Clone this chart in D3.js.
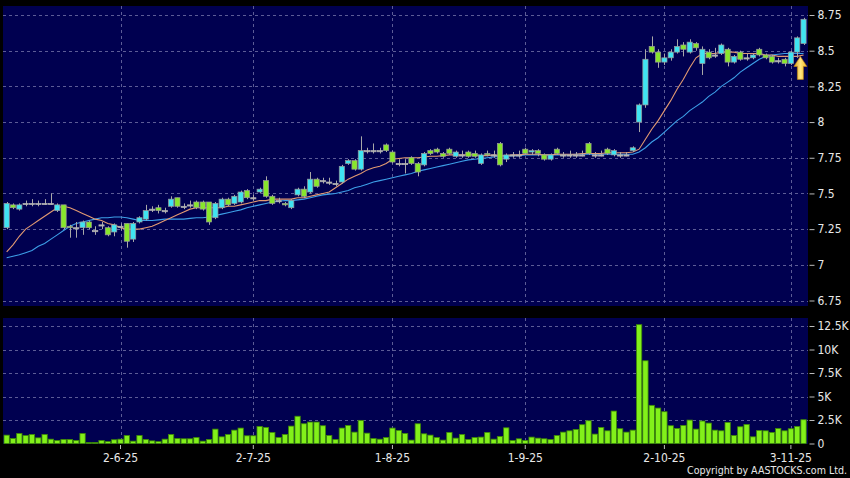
<!DOCTYPE html>
<html>
<head>
<meta charset="utf-8">
<script src="https://cdn.jsdelivr.net/npm/d3@7"></script>
<style>
  body { margin: 0; background: #000; }
  svg text { font-family: "DejaVu Sans Condensed", "DejaVu Sans", sans-serif; }
</style>
</head>
<body>
<svg id="chart" width="850" height="478"></svg>
<script>
// trading days, d-m-yy
const dates = [
  "7-5-25","8-5-25","9-5-25","12-5-25","13-5-25","14-5-25","15-5-25","16-5-25","19-5-25","20-5-25",
  "21-5-25","22-5-25","23-5-25","26-5-25","27-5-25","28-5-25","29-5-25","30-5-25",
  "2-6-25","3-6-25","4-6-25","5-6-25","6-6-25","9-6-25","10-6-25","11-6-25","12-6-25","13-6-25",
  "16-6-25","17-6-25","18-6-25","19-6-25","20-6-25","23-6-25","24-6-25","25-6-25","26-6-25","27-6-25","30-6-25",
  "2-7-25","3-7-25","4-7-25","7-7-25","8-7-25","9-7-25","10-7-25","11-7-25","14-7-25","15-7-25",
  "16-7-25","17-7-25","18-7-25","21-7-25","22-7-25","23-7-25","24-7-25","25-7-25","28-7-25","29-7-25","30-7-25","31-7-25",
  "1-8-25","4-8-25","5-8-25","6-8-25","7-8-25","8-8-25","11-8-25","12-8-25","13-8-25","14-8-25",
  "15-8-25","18-8-25","19-8-25","20-8-25","21-8-25","22-8-25","25-8-25","26-8-25","27-8-25","28-8-25","29-8-25",
  "1-9-25","2-9-25","3-9-25","4-9-25","5-9-25","8-9-25","9-9-25","10-9-25","11-9-25","12-9-25",
  "15-9-25","16-9-25","17-9-25","18-9-25","19-9-25","22-9-25","23-9-25","24-9-25","25-9-25","26-9-25","29-9-25","30-9-25",
  "2-10-25","3-10-25","6-10-25","8-10-25","9-10-25","10-10-25","13-10-25","14-10-25","15-10-25","16-10-25",
  "17-10-25","20-10-25","21-10-25","22-10-25","23-10-25","24-10-25","27-10-25","28-10-25","30-10-25","31-10-25",
  "3-11-25","4-11-25","5-11-25"
];

const open = [
  7.26,7.42,7.39,7.43,7.43,7.43,7.43,7.43,7.38,7.42, 7.27,7.26,7.26,7.30,7.24,7.28,7.26,7.23,7.27,7.29,
  7.18,7.30,7.32,7.39,7.40,7.38,7.41,7.47,7.41,7.42, 7.44,7.44,7.44,7.33,7.40,7.46,7.43,7.44,7.52,7.47,
  7.51,7.59,7.48,7.45,7.43,7.40,7.49,7.53,7.51,7.60, 7.59,7.58,7.57,7.58,7.71,7.73,7.67,7.80,7.80,7.80,
  7.84,7.79,7.71,7.71,7.75,7.71,7.70,7.80,7.81,7.78, 7.81,7.76,7.77,7.79,7.78,7.71,7.78,7.77,7.85,7.74,
  7.77,7.77,7.81,7.79,7.80,7.77,7.74,7.81,7.77,7.77, 7.77,7.77,7.85,7.77,7.77,7.81,7.77,7.77,7.77,7.80,
  8.00,8.12,8.53,8.49,8.42,8.45,8.49,8.54,8.49,8.55, 8.41,8.49,8.47,8.48,8.51,8.42,8.49,8.45,8.45,8.51,
  8.47,8.46,8.43,8.44,8.41,8.49,8.55
];
const high = [
  7.44,7.43,7.43,7.45,7.46,7.45,7.46,7.50,7.43,7.42, 7.28,7.30,7.31,7.31,7.27,7.30,7.27,7.29,7.29,7.29,
  7.30,7.34,7.42,7.41,7.42,7.40,7.48,7.47,7.43,7.45, 7.45,7.45,7.44,7.44,7.47,7.47,7.49,7.52,7.53,7.49,
  7.54,7.62,7.49,7.47,7.44,7.46,7.54,7.55,7.65,7.61, 7.61,7.61,7.59,7.70,7.74,7.74,7.90,7.82,7.85,7.82,
  7.85,7.80,7.74,7.74,7.76,7.72,7.79,7.81,7.82,7.79, 7.82,7.80,7.80,7.80,7.80,7.78,7.80,7.80,7.86,7.78,
  7.79,7.80,7.82,7.81,7.81,7.78,7.78,7.82,7.79,7.80, 7.79,7.80,7.86,7.79,7.80,7.82,7.81,7.79,7.79,7.83,
  8.13,8.51,8.60,8.51,8.48,8.51,8.58,8.56,8.58,8.56, 8.53,8.51,8.52,8.55,8.52,8.47,8.50,8.48,8.48,8.52,
  8.48,8.47,8.45,8.45,8.50,8.60,8.73
];
const low = [
  7.25,7.39,7.38,7.41,7.41,7.41,7.42,7.42,7.37,7.25, 7.19,7.19,7.21,7.25,7.21,7.25,7.20,7.20,7.24,7.12,
  7.16,7.29,7.31,7.37,7.36,7.36,7.40,7.40,7.39,7.40, 7.39,7.38,7.28,7.32,7.39,7.41,7.42,7.43,7.46,7.45,
  7.50,7.47,7.42,7.43,7.41,7.39,7.48,7.47,7.50,7.54, 7.57,7.56,7.55,7.57,7.70,7.66,7.66,7.78,7.78,7.78,
  7.79,7.71,7.69,7.64,7.70,7.62,7.69,7.77,7.78,7.75, 7.77,7.75,7.75,7.75,7.75,7.70,7.76,7.75,7.69,7.72,
  7.75,7.75,7.77,7.77,7.76,7.73,7.73,7.77,7.75,7.75, 7.75,7.76,7.77,7.75,7.76,7.77,7.76,7.75,7.76,7.79,
  7.93,8.10,8.48,8.38,8.40,8.43,8.48,8.46,8.48,8.50, 8.33,8.44,8.45,8.47,8.39,8.41,8.43,8.43,8.44,8.46,
  8.44,8.41,8.41,8.39,8.40,8.45,8.54
];
const close = [
  7.43,7.40,7.42,7.43,7.43,7.43,7.43,7.43,7.42,7.26, 7.26,7.26,7.30,7.26,7.24,7.28,7.21,7.28,7.27,7.165,
  7.29,7.33,7.38,7.39,7.38,7.38,7.46,7.41,7.41,7.42, 7.40,7.39,7.30,7.43,7.46,7.42,7.48,7.51,7.47,7.47,
  7.53,7.48,7.43,7.45,7.42,7.45,7.53,7.48,7.60,7.55, 7.59,7.58,7.57,7.69,7.73,7.67,7.80,7.80,7.80,7.80,
  7.80,7.72,7.71,7.71,7.71,7.65,7.78,7.78,7.79,7.76, 7.78,7.79,7.77,7.76,7.76,7.77,7.77,7.77,7.70,7.77,
  7.77,7.77,7.78,7.80,7.78,7.74,7.77,7.78,7.77,7.77, 7.77,7.77,7.78,7.77,7.77,7.78,7.80,7.77,7.77,7.82,
  8.12,8.44,8.49,8.42,8.45,8.49,8.53,8.51,8.56,8.52, 8.51,8.45,8.47,8.54,8.42,8.46,8.44,8.45,8.47,8.47,
  8.45,8.42,8.43,8.41,8.49,8.59,8.72
];

// moving averages as drawn (orange 10 day, blue 20 day)
const ma10 = [
  7.09,7.14,7.20,7.25,7.28,7.31,7.34,7.37,7.40,7.41, 7.40,7.38,7.36,7.34,7.32,7.31,7.29,7.28,7.26,7.25,
  7.25,7.25,7.26,7.27,7.29,7.31,7.33,7.35,7.37,7.39, 7.40,7.40,7.40,7.40,7.40,7.41,7.41,7.42,7.43,7.44,
  7.45,7.45,7.46,7.46,7.46,7.46,7.47,7.47,7.48,7.49, 7.50,7.51,7.54,7.57,7.60,7.62,7.64,7.665,7.68,7.69,
  7.71,7.74,7.745,7.75,7.75,7.75,7.755,7.76,7.76,7.765, 7.77,7.77,7.77,7.77,7.77,7.765,7.765,7.77,7.765,7.765,
  7.77,7.77,7.775,7.775,7.775,7.77,7.77,7.775,7.775,7.775, 7.775,7.78,7.78,7.78,7.78,7.785,7.785,7.785,7.785,7.79,
  7.81,7.88,7.95,8.01,8.08,8.15,8.23,8.30,8.38,8.45, 8.48,8.48,8.48,8.49,8.49,8.49,8.48,8.48,8.48,8.48,
  8.47,8.47,8.46,8.46,8.46,8.46,8.47
];
const ma20 = [
  7.05,7.06,7.07,7.085,7.10,7.13,7.15,7.18,7.21,7.24, 7.27,7.29,7.30,7.31,7.32,7.33,7.33,7.335,7.335,7.33,
  7.32,7.31,7.31,7.31,7.315,7.32,7.32,7.32,7.32,7.325, 7.33,7.33,7.335,7.345,7.355,7.365,7.375,7.385,7.40,7.41,
  7.42,7.43,7.44,7.445,7.45,7.45,7.455,7.46,7.47,7.48, 7.49,7.495,7.50,7.51,7.52,7.54,7.55,7.565,7.58,7.59,
  7.60,7.61,7.62,7.63,7.64,7.655,7.665,7.675,7.685,7.695, 7.705,7.715,7.725,7.735,7.74,7.745,7.75,7.755,7.76,7.76,
  7.765,7.765,7.77,7.77,7.77,7.77,7.77,7.77,7.77,7.77, 7.775,7.775,7.775,7.775,7.775,7.775,7.775,7.775,7.775,7.775,
  7.79,7.82,7.86,7.89,7.93,7.97,8.01,8.04,8.08,8.11, 8.14,8.18,8.21,8.25,8.28,8.31,8.35,8.38,8.41,8.44,
  8.46,8.47,8.475,8.48,8.48,8.48,8.48
];

// volume in thousands
const volume = [
  0.89,0.53,1.07,0.85,0.96,0.60,0.96,0.46,0.32,0.43, 0.43,0.32,1.07,0.10,0.10,0.32,0.20,0.40,0.46,0.85,
  0.25,0.85,0.43,0.28,0.20,0.46,0.96,0.53,0.50,0.50, 0.64,0.25,0.43,1.53,0.71,0.96,1.42,1.64,0.82,0.82,
  1.82,1.71,1.18,0.64,0.96,1.85,2.90,2.10,2.28,2.28, 1.89,0.85,0.43,1.64,1.92,1.21,2.46,1.10,0.53,0.46,
  0.64,1.64,1.39,1.07,0.36,2.10,1.03,0.89,0.64,0.36, 1.18,0.57,0.96,0.43,0.64,0.68,1.18,0.46,0.75,1.67,
  0.32,0.50,0.32,0.68,0.57,0.50,0.43,0.85,1.21,1.35, 1.50,2.00,2.42,1.00,1.71,1.35,3.45,1.57,1.21,1.42,
  12.64,8.80,4.06,3.77,3.38,1.89,1.60,1.92,2.49,1.53, 2.39,2.17,1.42,1.35,2.24,0.85,1.78,2.03,0.71,1.39,
  1.35,1.18,1.60,1.35,1.57,1.82,2.53
];

const priceTicks = [6.75, 7, 7.25, 7.5, 7.75, 8, 8.25, 8.5, 8.75];
const volTicks = [0, 2.5, 5, 7.5, 10, 12.5];
const dateTicks = ["2-6-25", "2-7-25", "1-8-25", "1-9-25", "2-10-25", "3-11-25"];
const arrowPrice = 8.46;

const svg = d3.select("#chart");
const upColor = "#3fe4f2", downColor = "#88e62c", flatColor = "#b4b4b4";
const gridColor = "#5c5c96";

const x = d3.scaleBand().domain(dates).range([3.5, 806.7]);
const cx = d => x(d) + x.bandwidth() / 2;
const yP = d3.scaleLinear().domain([6.75, 8.75]).range([300.5, 15]);
const yV = d3.scaleLinear().domain([0, 12.5]).range([443.5, 326]);

svg.append("rect").attr("width", 850).attr("height", 478).attr("fill", "#000");

// panels
svg.append("rect").attr("x", 3).attr("y", 6).attr("width", 805).attr("height", 300).attr("fill", "#000050");
svg.append("rect").attr("x", 3).attr("y", 318).attr("width", 805).attr("height", 126).attr("fill", "#000050");

svg.append("clipPath").attr("id", "pclip").append("rect")
  .attr("x", 3).attr("y", 6).attr("width", 805).attr("height", 300);

// grid
const grid = svg.append("g").attr("stroke", gridColor).attr("stroke-dasharray", "3,3").attr("stroke-width", 1);
grid.selectAll(".hp").data(priceTicks).join("line")
  .attr("x1", 3).attr("x2", 808)
  .attr("y1", d => Math.round(yP(d)) + 0.5).attr("y2", d => Math.round(yP(d)) + 0.5);
grid.selectAll(".hv").data(volTicks.slice(1)).join("line")
  .attr("x1", 3).attr("x2", 808)
  .attr("y1", d => Math.round(yV(d)) + 0.5).attr("y2", d => Math.round(yV(d)) + 0.5);
dateTicks.forEach(d => {
  const xx = Math.round(cx(d)) + 0.5;
  grid.append("line").attr("x1", xx).attr("x2", xx).attr("y1", 6).attr("y2", 306);
  grid.append("line").attr("x1", xx).attr("x2", xx).attr("y1", 318).attr("y2", 444);
});

// volume bars
const vw = x.bandwidth() * 0.84;
svg.append("g").selectAll("rect").data(volume).join("rect")
  .attr("x", (v, i) => cx(dates[i]) - vw / 2)
  .attr("y", v => yV(v))
  .attr("width", vw)
  .attr("height", v => yV(0) - yV(v))
  .attr("fill", "#82f01a")
  .attr("stroke", "#3e8a06")
  .attr("stroke-width", 0.8);

// moving averages
const plot = svg.append("g").attr("clip-path", "url(#pclip)");
const line = d3.line().x((v, i) => cx(dates[i])).y(v => yP(v));
plot.append("path").datum(ma20).attr("d", line).attr("fill", "none").attr("stroke", "#3d9fe8").attr("stroke-width", 1.1);
plot.append("path").datum(ma10).attr("d", line).attr("fill", "none").attr("stroke", "#e39a72").attr("stroke-width", 1.1);

// candles
const bw = x.bandwidth() * 0.82;
const candles = plot.append("g").selectAll("g").data(dates).join("g");
candles.append("line")
  .attr("x1", d => Math.round(cx(d)) + 0.5).attr("x2", d => Math.round(cx(d)) + 0.5)
  .attr("y1", (d, i) => yP(high[i])).attr("y2", (d, i) => yP(low[i]))
  .attr("stroke", "#a8a8a8").attr("stroke-width", 1);
candles.append("rect")
  .attr("x", d => cx(d) - bw / 2)
  .attr("y", (d, i) => yP(Math.max(open[i], close[i])))
  .attr("width", bw)
  .attr("height", (d, i) => Math.max(1.2, Math.abs(yP(open[i]) - yP(close[i]))))
  .attr("fill", (d, i) => close[i] > open[i] ? upColor : close[i] < open[i] ? downColor : flatColor)
  .attr("stroke", (d, i) => close[i] === open[i] ? flatColor : "#9a9a9a")
  .attr("stroke-width", 0.7);

// arrow under the latest bars
const n = dates.length;
const ax = (cx(dates[n - 1]) + cx(dates[n - 2])) / 2;
const ay = yP(arrowPrice);
const grad = svg.append("defs").append("linearGradient").attr("id", "ag").attr("x1", "0").attr("x2", "1");
grad.append("stop").attr("offset", "0").attr("stop-color", "#d99a12");
grad.append("stop").attr("offset", "0.5").attr("stop-color", "#ffe680");
grad.append("stop").attr("offset", "1").attr("stop-color", "#f2b820");
svg.append("path")
  .attr("d", d3.line()([[0, 0], [6.5, 10], [3, 10], [3, 23], [-3, 23], [-3, 10], [-6.5, 10]]) + "Z")
  .attr("transform", `translate(${ax},${ay})`)
  .attr("fill", "url(#ag)").attr("stroke", "#c88a10").attr("stroke-width", 0.6);

// axes
const styleAxis = g => {
  g.select(".domain").remove();
  g.selectAll(".tick line").attr("stroke", "#bbbbbb");
  g.selectAll("text").attr("fill", "#e8e8e8").attr("font-size", 12);
};
svg.append("g").attr("transform", "translate(809.5,0)")
  .call(d3.axisRight(yP).tickValues(priceTicks).tickSize(5).tickPadding(3).tickFormat(d3.format("")))
  .call(styleAxis);
svg.append("g").attr("transform", "translate(809.5,0)")
  .call(d3.axisRight(yV).tickValues(volTicks).tickSize(5).tickPadding(3).tickFormat(d => d === 0 ? "0" : d + "K"))
  .call(styleAxis);
svg.append("g").attr("transform", "translate(0,445)")
  .call(d3.axisBottom(x).tickValues(dateTicks).tickSize(4).tickPadding(4))
  .call(styleAxis);

svg.append("text").attr("x", 847).attr("y", 474).attr("text-anchor", "end")
  .attr("fill", "#e8e8e8").attr("font-size", 10.5)
  .attr("textLength", 160).attr("lengthAdjust", "spacingAndGlyphs")
  .text("Copyright by AASTOCKS.com Ltd.");
</script>
</body>
</html>
